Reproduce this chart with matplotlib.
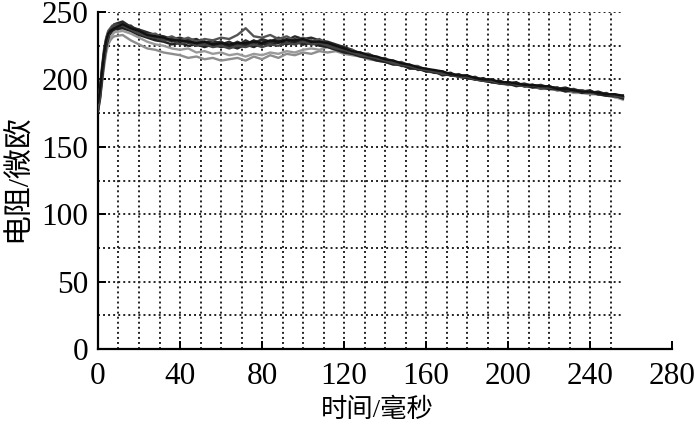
import matplotlib
matplotlib.use("Agg")
import matplotlib.pyplot as plt
import numpy as np

# time axis (ms)
t = [0, 1, 2, 3, 4, 5, 6, 7, 8] + list(range(12, 257, 4))

curve_a = [178,192,208,221,230,235,237,239,240,
           242,238,236,233,232,229,231,228,229,226,
           228,225,227,224,227,226,229,226,228,227,
           230,227,229,226,228,225,224,221,221,218,
           218,215,215,212,212,209,209,206,207,204,
           205,202,203,200,201,198,199,197,198,195,
           196,194,195,193,194,192,192,190,191,189,
           189,187]
curve_b = [182,188,203,216,226,232,235,237,238,
           239,240,235,234,230,231,228,230,227,228,
           226,227,228,225,228,225,228,229,226,229,
           227,230,228,229,226,227,223,223,219,220,
           216,216,213,214,210,211,207,208,205,206,
           203,204,201,202,199,200,197,198,196,197,
           195,196,194,194,192,193,191,192,189,190,
           187,188]
curve_c = [176,186,200,214,224,230,236,238,241,
           243,239,237,235,233,232,230,231,229,230,
           227,229,226,228,225,229,226,230,228,231,
           229,232,230,231,229,228,226,224,222,219,
           219,216,214,213,212,209,208,207,205,205,
           203,203,201,201,199,199,198,197,197,195,
           195,194,193,194,192,192,191,190,190,188,
           188,186]
curve_d = [184,194,210,223,231,236,238,240,239,
           241,238,235,233,234,230,232,229,231,228,
           230,229,231,230,233,238,232,231,233,230,
           232,229,231,228,230,226,225,222,222,218,
           219,215,216,212,213,210,210,207,206,205,
           204,202,202,200,200,198,198,196,197,195,
           195,193,194,192,193,191,192,190,189,189,
           187,188]
curve_e = [180,190,206,219,228,233,234,236,237,
           238,236,233,231,229,228,226,227,225,226,
           224,226,224,225,223,226,224,227,225,228,
           226,228,226,227,225,224,222,220,219,217,
           216,214,213,211,211,208,208,206,206,203,
           204,202,201,200,199,198,197,197,195,196,
           194,195,193,193,191,192,190,191,189,188,
           188,186]
curve_f = [179,187,204,217,227,232,237,239,241,
           240,237,234,232,231,229,229,226,228,225,
           226,224,225,223,225,224,226,224,226,225,
           227,226,228,226,227,225,223,222,220,218,
           217,216,214,212,211,210,208,207,206,204,
           204,202,202,200,199,199,197,198,196,195,
           196,194,194,193,193,191,191,190,190,189,
           188,187]
curve_g = [183,193,207,220,229,234,236,237,238,
           241,238,236,233,232,231,229,229,228,227,
           228,226,227,226,227,227,228,227,229,228,
           229,229,230,228,228,227,225,223,221,220,
           218,217,215,214,212,211,209,208,207,206,
           204,203,203,201,200,200,198,198,197,196,
           196,195,195,193,193,192,191,191,190,189,
           189,188]
curve_h = [177,185,198,210,220,226,229,231,232,
           233,229,226,223,222,220,219,218,216,217,
           215,216,214,215,216,214,217,215,218,216,
           219,218,220,219,221,220,221,219,218,217,
           215,214,213,212,210,209,208,206,205,204,
           203,202,201,200,199,198,197,196,196,195,
           194,194,193,192,192,191,190,190,189,188,
           187,186]
curve_i = [181,189,202,214,223,228,231,233,235,
           236,234,231,228,226,225,223,222,223,220,
           221,219,220,218,219,217,219,218,220,219,
           221,220,222,223,222,224,222,221,219,218,
           216,215,213,213,211,210,208,207,206,205,
           203,203,201,201,199,198,198,196,196,195,
           195,193,193,192,192,190,190,189,189,188,
           187,185]

curves = [curve_h, curve_i, curve_a, curve_b, curve_c, curve_d, curve_e, curve_f, curve_g]
colors = ["#8e8e8e", "#9a9a9a", "#1a1a1a", "#333333", "#2a2a2a", "#555555",
          "#222222", "#444444", "#111111"]

x_ticks = [0, 40, 80, 120, 160, 200, 240, 280]
y_ticks = [0, 50, 100, 150, 200, 250]
x_label = "时间/毫秒"
y_label = "电阻/微欧"

fig = plt.figure(figsize=(6.95, 4.30), dpi=100)
ax = fig.add_axes([0.141, 0.188, 0.826, 0.784])

# dotted grid restricted to the data region
t_end = t[-1]
ax.hlines(np.arange(25, 251, 25), 0, t_end, colors="#222222",
          linestyles=(0, (1.0, 1.6)), linewidth=1.4, zorder=1)
ax.vlines(np.arange(10, 251, 10), 0, 250, colors="#222222",
          linestyles=(0, (1.0, 1.6)), linewidth=1.4, zorder=1)

for c, col in zip(curves, colors):
    n = min(len(t), len(c))
    ax.plot(t[:n], c[:n], color=col, linewidth=1.7, zorder=3)

ax.set_xlim(0, 280)
ax.set_ylim(0, 250)
ax.set_xticks(x_ticks)
ax.set_yticks(y_ticks)
for s in ["top", "right"]:
    ax.spines[s].set_visible(False)
for s in ["left", "bottom"]:
    ax.spines[s].set_linewidth(1.6)
    ax.spines[s].set_color("black")
ax.tick_params(direction="in", length=6, width=1.4)
ax.tick_params(axis="x", pad=9)
ax.tick_params(axis="y", pad=7)

for lab in ax.get_xticklabels() + ax.get_yticklabels():
    lab.set_fontfamily(["Liberation Serif"])
    lab.set_fontsize(22.5)

ax.set_xlabel(x_label, family=["Liberation Serif", "Noto Sans CJK SC"],
              fontsize=19)
ax.set_ylabel(y_label, family=["Liberation Serif", "Noto Sans CJK SC"],
              fontsize=21.5)
ax.xaxis.set_label_coords(0.486, -0.145)
ax.yaxis.set_label_coords(-0.115, 0.507)

fig.savefig("out.png", dpi=100)
